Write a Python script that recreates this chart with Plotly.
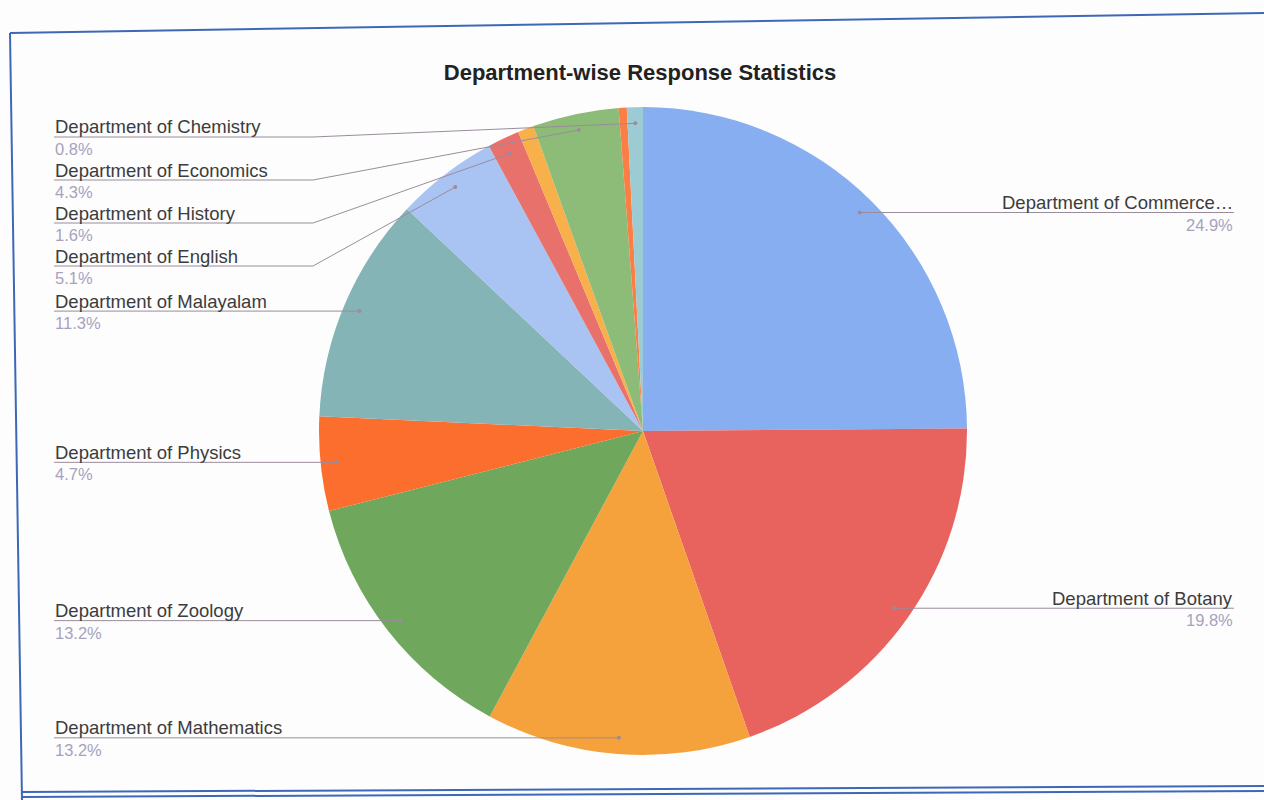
import math
import plotly.graph_objects as go

# slices in the order they are drawn, clockwise from 12 o'clock
departments = [
    "Department of Commerce…",
    "Department of Botany",
    "Department of Mathematics",
    "Department of Zoology",
    "Department of Physics",
    "Department of Malayalam",
    "Department of English",
    "Department of History",
    "Other department (a)",
    "Department of Economics",
    "Other department (b)",
    "Department of Chemistry",
]
shares = [24.9, 19.8, 13.2, 13.2, 4.7, 11.3, 5.1, 1.6, 0.8, 4.3, 0.4, 0.8]
show_label = [True, True, True, True, True, True, True, True, False, True, False, True]

COLORS = [
    "#86aef0", "#e8625e", "#f6a23c", "#6fa75c", "#fb6e2e", "#84b4b6",
    "#a9c3f3", "#e8716c", "#f7b04a", "#8dbb78", "#fb7f45", "#9ccbd4",
]

W, H = 1264, 800
CX, CY, R = 643, 431, 324          # pie centre / radius in pixels
LINE = "#9a8c9c"
NAME_COLOR = "#3c3c3c"
PCT_COLOR = "#a6a2be"
FONT = "Liberation Sans, Arial, sans-serif"


def px(x, y):
    return x / W, 1 - y / H


fig = go.Figure(go.Pie(
    labels=departments,
    values=shares,
    sort=False,
    direction="clockwise",
    rotation=0,
    marker=dict(colors=COLORS, line=dict(width=0)),
    textinfo="none",
    hovertemplate="<b>%{label}</b><br>%{value}%<extra></extra>",
    domain=dict(
        x=[(CX - R) / W, (CX + R) / W],
        y=[1 - (CY + R) / H, 1 - (CY - R) / H],
    ),
    showlegend=False,
))

# leader-line end points from the slice mid-angles
total = sum(shares)
cum = 0
ends = []
for v in shares:
    mid = (cum + v / 2) / total * 2 * math.pi
    cum += v
    ends.append((CX + 0.95 * R * math.sin(mid), CY - 0.95 * R * math.cos(mid)))

# stack the labels on each side so that they do not overlap
GAP, TOP = 43, 137
placed = {}
for side in ("left", "right"):
    idx = [i for i in range(len(shares)) if show_label[i]
           and ((ends[i][0] < CX) == (side == "left"))]
    idx.sort(key=lambda i: ends[i][1])
    prev = None
    for i in idx:
        y = max(ends[i][1], TOP)
        if prev is not None:
            y = max(y, prev + GAP)
        placed[i] = y
        prev = y

annotations = []
shapes = []
for i, u in placed.items():
    ex, ey = ends[i]
    left = ex < CX
    tx = 54 if left else 1234
    elbow = CX - R - 6 if left else CX + R + 6
    anchor = "left" if left else "right"
    x0, y0 = px(tx, u)
    x1, y1 = px(elbow, u)
    x2, y2 = px(ex, ey)
    shapes.append(dict(type="path", xref="paper", yref="paper",
                       path=f"M {x0},{y0} L {x1},{y1} L {x2},{y2}",
                       line=dict(color=LINE, width=1)))
    shapes.append(dict(type="circle", xref="paper", yref="paper",
                       x0=(ex - 2) / W, x1=(ex + 2) / W,
                       y0=1 - (ey + 2) / H, y1=1 - (ey - 2) / H,
                       fillcolor=LINE, line=dict(width=0)))
    annotations.append(dict(
        x=tx / W, y=1 - (u - 10) / H, xref="paper", yref="paper",
        text=departments[i], showarrow=False, xanchor=anchor, yanchor="middle",
        borderpad=0, font=dict(family=FONT, size=18.5, color=NAME_COLOR),
    ))
    annotations.append(dict(
        x=tx / W, y=1 - (u + 12) / H, xref="paper", yref="paper",
        text=f"{shares[i]:.1f}%", showarrow=False, xanchor=anchor, yanchor="middle",
        borderpad=0, font=dict(family=FONT, size=16.5, color=PCT_COLOR),
    ))

# scanned page frame
BLUE = "#3d68b8"
frame = [
    [(10, 33), (1264, 13)],
    [(10, 33), (22, 800)],
    [(22, 792), (1264, 786)],
    [(22, 797), (1264, 791)],
]
for (a, b) in frame:
    (xa, ya), (xb, yb) = px(*a), px(*b)
    shapes.append(dict(type="line", xref="paper", yref="paper",
                       x0=xa, y0=ya, x1=xb, y1=yb,
                       line=dict(color=BLUE, width=2)))

fig.update_layout(
    width=W,
    height=H,
    title=dict(
        text="<b>Department-wise Response Statistics</b>",
        x=640 / W, y=1 - 72 / H, xanchor="center", yanchor="middle",
        font=dict(family=FONT, size=22, color="#222222"),
    ),
    annotations=annotations,
    shapes=shapes,
    paper_bgcolor="#fdfdfd",
    plot_bgcolor="#fdfdfd",
    margin=dict(l=0, r=0, t=0, b=0),
)

fig.write_html("out.html", config={"displayModeBar": False},
               post_script="document.body.style.margin='0';")
